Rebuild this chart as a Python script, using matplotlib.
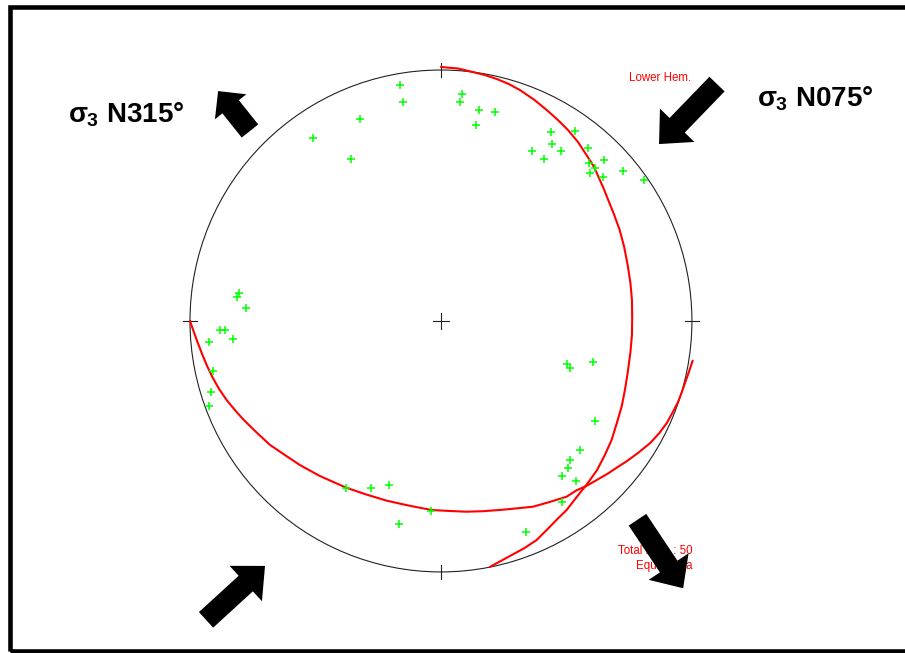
import matplotlib
matplotlib.use("Agg")
import matplotlib.pyplot as plt
from matplotlib.patches import Circle, FancyArrow, Rectangle

# net coordinates: x = east, y = north, in units of the primitive radius
pole_east = [-0.163, -0.153, 0.082, 0.077, 0.153, 0.214, 0.138, -0.324, -0.510, -0.359,
             0.438, 0.534, 0.443, 0.364, 0.479, 0.409, 0.584, 0.649, 0.588, 0.615,
             0.595, 0.644, 0.725, 0.809,
             -0.805, -0.814, -0.778, -0.880, -0.859, -0.924, -0.830, -0.910, -0.915, -0.924,
             0.502, 0.514, 0.604, 0.614, 0.554, 0.513, 0.507, 0.482, 0.539, 0.482, 0.337,
             -0.378, -0.279, -0.208, -0.039, -0.169]
pole_north = [0.940, 0.874, 0.904, 0.874, 0.839, 0.834, 0.780, 0.804, 0.729, 0.644,
              0.753, 0.758, 0.704, 0.678, 0.678, 0.644, 0.689, 0.643, 0.628, 0.611,
              0.590, 0.574, 0.599, 0.563,
              0.113, 0.097, 0.053, -0.035, -0.035, -0.082, -0.073, -0.198, -0.284, -0.339,
              -0.173, -0.188, -0.163, -0.398, -0.514, -0.553, -0.584, -0.619, -0.639, -0.720, -0.839,
              -0.664, -0.664, -0.653, -0.756, -0.809]

# traces of the two planes
plane_a_east = [0.000, 0.068, 0.127, 0.175, 0.223, 0.271, 0.315, 0.371, 0.421, 0.466,
                0.506, 0.546, 0.580, 0.610, 0.633, 0.649, 0.665, 0.689, 0.712, 0.730,
                0.744, 0.755, 0.761, 0.762, 0.761, 0.755, 0.744, 0.733, 0.720, 0.701,
                0.680, 0.653, 0.622, 0.600, 0.578, 0.538, 0.501, 0.466, 0.434, 0.381,
                0.331, 0.283, 0.239, 0.195]
plane_a_north = [1.012, 1.006, 0.992, 0.980, 0.964, 0.944, 0.920, 0.882, 0.841, 0.801,
                 0.761, 0.713, 0.661, 0.614, 0.562, 0.526, 0.486, 0.426, 0.363, 0.295,
                 0.223, 0.151, 0.084, 0.012, -0.056, -0.124, -0.207, -0.275, -0.341, -0.406,
                 -0.474, -0.534, -0.594, -0.625, -0.655, -0.705, -0.753, -0.787, -0.820, -0.873,
                 -0.906, -0.932, -0.956, -0.980]
plane_b_east = [-1.000, -0.986, -0.970, -0.952, -0.932, -0.910, -0.884, -0.854, -0.821, -0.788,
                -0.737, -0.681, -0.622, -0.562, -0.482, -0.430, -0.378, -0.299, -0.216, -0.131,
                -0.039, 0.032, 0.102, 0.167, 0.235, 0.299, 0.367, 0.434, 0.501, 0.540,
                0.580, 0.622, 0.665, 0.701, 0.740, 0.785, 0.833, 0.869, 0.899, 0.924,
                0.945, 0.960, 0.972, 0.988, 1.003]
plane_b_north = [0.000, -0.040, -0.084, -0.131, -0.179, -0.225, -0.271, -0.315, -0.355, -0.392,
                 -0.442, -0.494, -0.534, -0.574, -0.618, -0.641, -0.664, -0.691, -0.716, -0.735,
                 -0.753, -0.757, -0.760, -0.758, -0.753, -0.747, -0.740, -0.721, -0.700, -0.675,
                 -0.657, -0.633, -0.608, -0.584, -0.559, -0.526, -0.487, -0.448, -0.408, -0.363,
                 -0.322, -0.283, -0.248, -0.203, -0.158]

stress_labels = [r"$\sigma_3$ N315°", r"$\sigma_3$ N075°"]
n_data = len(pole_east)

plt.rcParams['mathtext.fontset'] = 'custom'
plt.rcParams['mathtext.rm'] = 'Liberation Sans:bold'
plt.rcParams['mathtext.it'] = 'Liberation Sans:bold'
plt.rcParams['mathtext.bf'] = 'Liberation Sans:bold'

fig = plt.figure(figsize=(9.05, 6.53), dpi=100)
ax = fig.add_axes([0, 0, 1, 1])
ax.set_xlim(-1.757, 1.849)
ax.set_ylim(-1.323, 1.279)
ax.axis('off')

# primitive circle and cardinal ticks
ax.add_patch(Circle((0, 0), 1.0, fill=False, lw=0.8, color='#222222', zorder=1))
t = 0.027
ax.plot([0, 0], [1 - t, 1 + t], color='#222222', lw=0.8)
ax.plot([0, 0], [-1 - t, -1 + t], color='#222222', lw=0.8)
ax.plot([-1 - t, -1 + t], [0, 0], color='#222222', lw=0.8)
ax.plot([1 - t, 1 + t], [0, 0], color='#222222', lw=0.8)
c = 0.032
ax.plot([-c, c], [0, 0], color='#222222', lw=0.8)
ax.plot([0, 0], [-c, c], color='#222222', lw=0.8)

ax.plot(plane_a_east, plane_a_north, color='#ff0000', lw=1.5, zorder=2,
        solid_joinstyle='round', solid_capstyle='round')
ax.plot(plane_b_east, plane_b_north, color='#ff0000', lw=1.5, zorder=2,
        solid_joinstyle='round', solid_capstyle='round')

ax.plot(pole_east, pole_north, ls='none', marker='+', ms=5.5, mew=1.1,
        color='#00ff00', zorder=3)

ax.text(0.749, 0.957, 'Lower Hem.', color='#ff0000', fontsize=8.3,
        family='Liberation Sans', ha='left', va='baseline')
ax.text(1.003, -0.928, 'Total Data : %d' % n_data, color='#ff0000', fontsize=8.3,
        family='Liberation Sans', ha='right', va='baseline')
ax.text(1.003, -0.989, 'Equal Area', color='#ff0000', fontsize=8.3,
        family='Liberation Sans', ha='right', va='baseline')

ax.text(-1.486, 0.791, stress_labels[0], fontsize=20, fontweight='bold',
        family='Liberation Sans', ha='left', va='baseline')
ax.text(1.259, 0.854, stress_labels[1], fontsize=20, fontweight='bold',
        family='Liberation Sans', ha='left', va='baseline')

# block arrows: (tail x, tail y, dx, dy, head width, head length)
arrows = [(-0.761, 0.757, -0.127, 0.159, 0.160, 0.080),
          (1.100, 0.944, -0.231, -0.239, 0.191, 0.104),
          (-0.936, -1.191, 0.235, 0.215, 0.191, 0.104),
          (0.783, -0.792, 0.182, -0.273, 0.191, 0.104)]
for x, y, dx, dy, hw, hl in arrows:
    ax.add_patch(FancyArrow(x, y, dx, dy, width=0.084, head_width=hw, head_length=hl,
                            length_includes_head=True, color='black', lw=0, zorder=4))

fig.add_artist(Rectangle((9.5 / 905, 2.0 / 653), 1.05, (646.5 - 2.0) / 653,
                         transform=fig.transFigure, fill=False, lw=3.3,
                         edgecolor='black', clip_on=False))

fig.savefig('out.png', dpi=100)
